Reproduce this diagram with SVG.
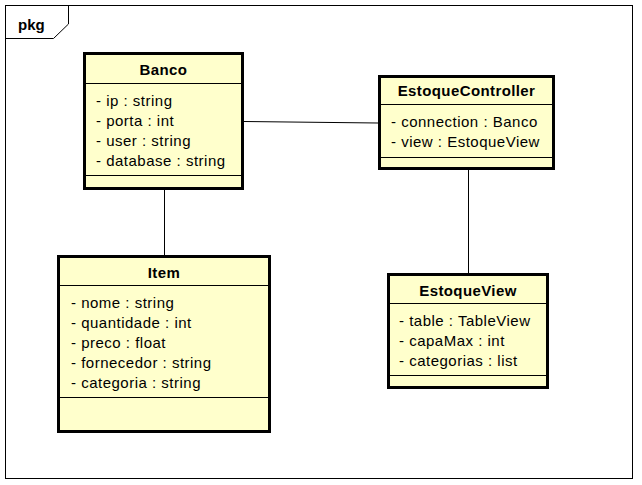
<svg xmlns="http://www.w3.org/2000/svg" width="642" height="485" viewBox="0 0 642 485">
<style>
.bg{fill:#ffffff}
.frame{fill:none;stroke:#000;stroke-width:1}
.cls{fill:#ffffcc;stroke:#000;stroke-width:3}
.sep{stroke:#000;stroke-width:1}
.conn{stroke:#000;stroke-width:1;fill:none}
.title{font-family:"Liberation Sans",Arial,sans-serif;font-size:15px;font-weight:bold;letter-spacing:0.4px;text-anchor:middle;fill:#000}
.attr{font-family:"Liberation Sans",Arial,sans-serif;font-size:15px;letter-spacing:0.5px;fill:#000}
.pkg{font-family:"Liberation Sans",Arial,sans-serif;font-size:15px;font-weight:bold;fill:#000}
</style>
<rect class="bg" x="0" y="0" width="642" height="485"/>
<g id="package">
<rect class="frame" x="5.5" y="5.5" width="627" height="473"/>
<path class="frame" d="M5.5 38.5 H53.5 L68.5 24 V5.5"/>
<text class="pkg" x="18" y="30">pkg</text>
</g>
<g id="connectors">
<line class="conn" x1="244" y1="121.5" x2="378" y2="123"/>
<line class="conn" x1="164.5" y1="190" x2="164.5" y2="255"/>
<line class="conn" x1="468.5" y1="170" x2="468.5" y2="273"/>
</g>
<g id="Banco">
<rect class="cls" x="84.5" y="53.5" width="158" height="135"/>
<line class="sep" x1="86" y1="83.5" x2="241" y2="83.5"/>
<line class="sep" x1="86" y1="175.5" x2="241" y2="175.5"/>
<text class="title" x="163.5" y="75">Banco</text>
<text class="attr" x="96" y="106">- ip : string</text>
<text class="attr" x="96" y="126">- porta : int</text>
<text class="attr" x="96" y="146">- user : string</text>
<text class="attr" x="96" y="166">- database : string</text>
</g>
<g id="EstoqueController">
<rect class="cls" x="379.5" y="76.5" width="174" height="92"/>
<line class="sep" x1="381" y1="104.5" x2="552" y2="104.5"/>
<line class="sep" x1="381" y1="157.5" x2="552" y2="157.5"/>
<text class="title" x="466.5" y="96">EstoqueController</text>
<text class="attr" x="391" y="127">- connection : Banco</text>
<text class="attr" x="391" y="147">- view : EstoqueView</text>
</g>
<g id="Item">
<rect class="cls" x="58.5" y="256.5" width="211" height="175"/>
<line class="sep" x1="60" y1="285.5" x2="268" y2="285.5"/>
<line class="sep" x1="60" y1="397.5" x2="268" y2="397.5"/>
<text class="title" x="164" y="278">Item</text>
<text class="attr" x="71" y="308">- nome : string</text>
<text class="attr" x="71" y="328">- quantidade : int</text>
<text class="attr" x="71" y="348">- preco : float</text>
<text class="attr" x="71" y="368">- fornecedor : string</text>
<text class="attr" x="71" y="388">- categoria : string</text>
</g>
<g id="EstoqueView">
<rect class="cls" x="388.5" y="274.5" width="159" height="113"/>
<line class="sep" x1="390" y1="303.5" x2="546" y2="303.5"/>
<line class="sep" x1="390" y1="375.5" x2="546" y2="375.5"/>
<text class="title" x="468" y="296">EstoqueView</text>
<text class="attr" x="399" y="326">- table : TableView</text>
<text class="attr" x="399" y="346">- capaMax : int</text>
<text class="attr" x="399" y="366">- categorias : list</text>
</g>
</svg>
